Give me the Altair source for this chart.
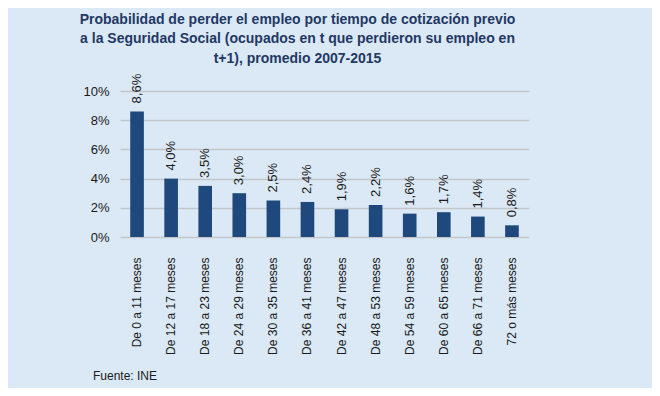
import altair as alt
import pandas as pd

categories = ["De 0 a 11 meses", "De 12 a 17 meses", "De 18 a 23 meses", "De 24 a 29 meses",
              "De 30 a 35 meses", "De 36 a 41 meses", "De 42 a 47 meses", "De 48 a 53 meses",
              "De 54 a 59 meses", "De 60 a 65 meses", "De 66 a 71 meses", "72 o más meses"]
values = [8.6, 4.0, 3.5, 3.0, 2.5, 2.4, 1.9, 2.2, 1.6, 1.7, 1.4, 0.8]
y_ticks = [0, 2, 4, 6, 8, 10]
title_lines = ["Probabilidad de perder el empleo por tiempo de cotización previo",
               "a la Seguridad Social (ocupados en t que perdieron su empleo en",
               "t+1), promedio 2007-2015"]
source_note = ["Fuente: INE"]

df = pd.DataFrame({"cat": categories, "val": values,
                   "lab": [f"{v:.1f}".replace(".", ",") + "%" for v in values]})

BG = "#dbe8f5"
BAR = "#1f497d"
FONT = "Liberation Sans"

x = alt.X("cat:N", sort=categories, title=None,
          scale=alt.Scale(paddingInner=0.6, paddingOuter=0.3),
          axis=alt.Axis(labelAngle=270, labelFontSize=12, labelPadding=20, ticks=False,
                        domain=False, labelColor="#1a1a1a", labelFont=FONT,
                        labelOverlap=False))
y = alt.Y("val:Q", title=None, scale=alt.Scale(domain=[0, 10], nice=False),
          axis=alt.Axis(values=y_ticks, labelExpr="datum.value + '%'",
                        labelFontSize=13, labelPadding=11, ticks=False, domain=False,
                        labelOverlap=False, grid=True,
                        gridColor="#c2c7cc", gridWidth=1.5, labelColor="#1a1a1a", labelFont=FONT))

base = alt.Chart(df).encode(x=x, y=y)
bars = base.mark_bar(color=BAR)
labels = base.mark_text(angle=270, align="left", baseline="middle", dx=8,
                        fontSize=13, color="#1a1a1a", font=FONT).encode(text="lab:N")
note = alt.Chart(pd.DataFrame({"t": source_note})).mark_text(
    align="left", baseline="middle", fontSize=12, color="#1a1a1a", font=FONT).encode(
    x=alt.value(-27), y=alt.value(285), text="t:N")

chart = alt.layer(bars, labels, note).properties(
    width=409, height=146,
    title=alt.TitleParams(title_lines, fontSize=14, font=FONT, fontWeight="bold",
                          color="#1f3864", anchor="middle", dx=-27, lineHeight=19.5,
                          offset=8),
    padding={"left": 112, "top": 83, "right": 123, "bottom": 151},
    autosize=alt.AutoSizeParams(type="none"),
).configure(background=BG).configure_view(stroke=None)

chart.save("out.html", embed_options={"renderer": "svg", "actions": False})
